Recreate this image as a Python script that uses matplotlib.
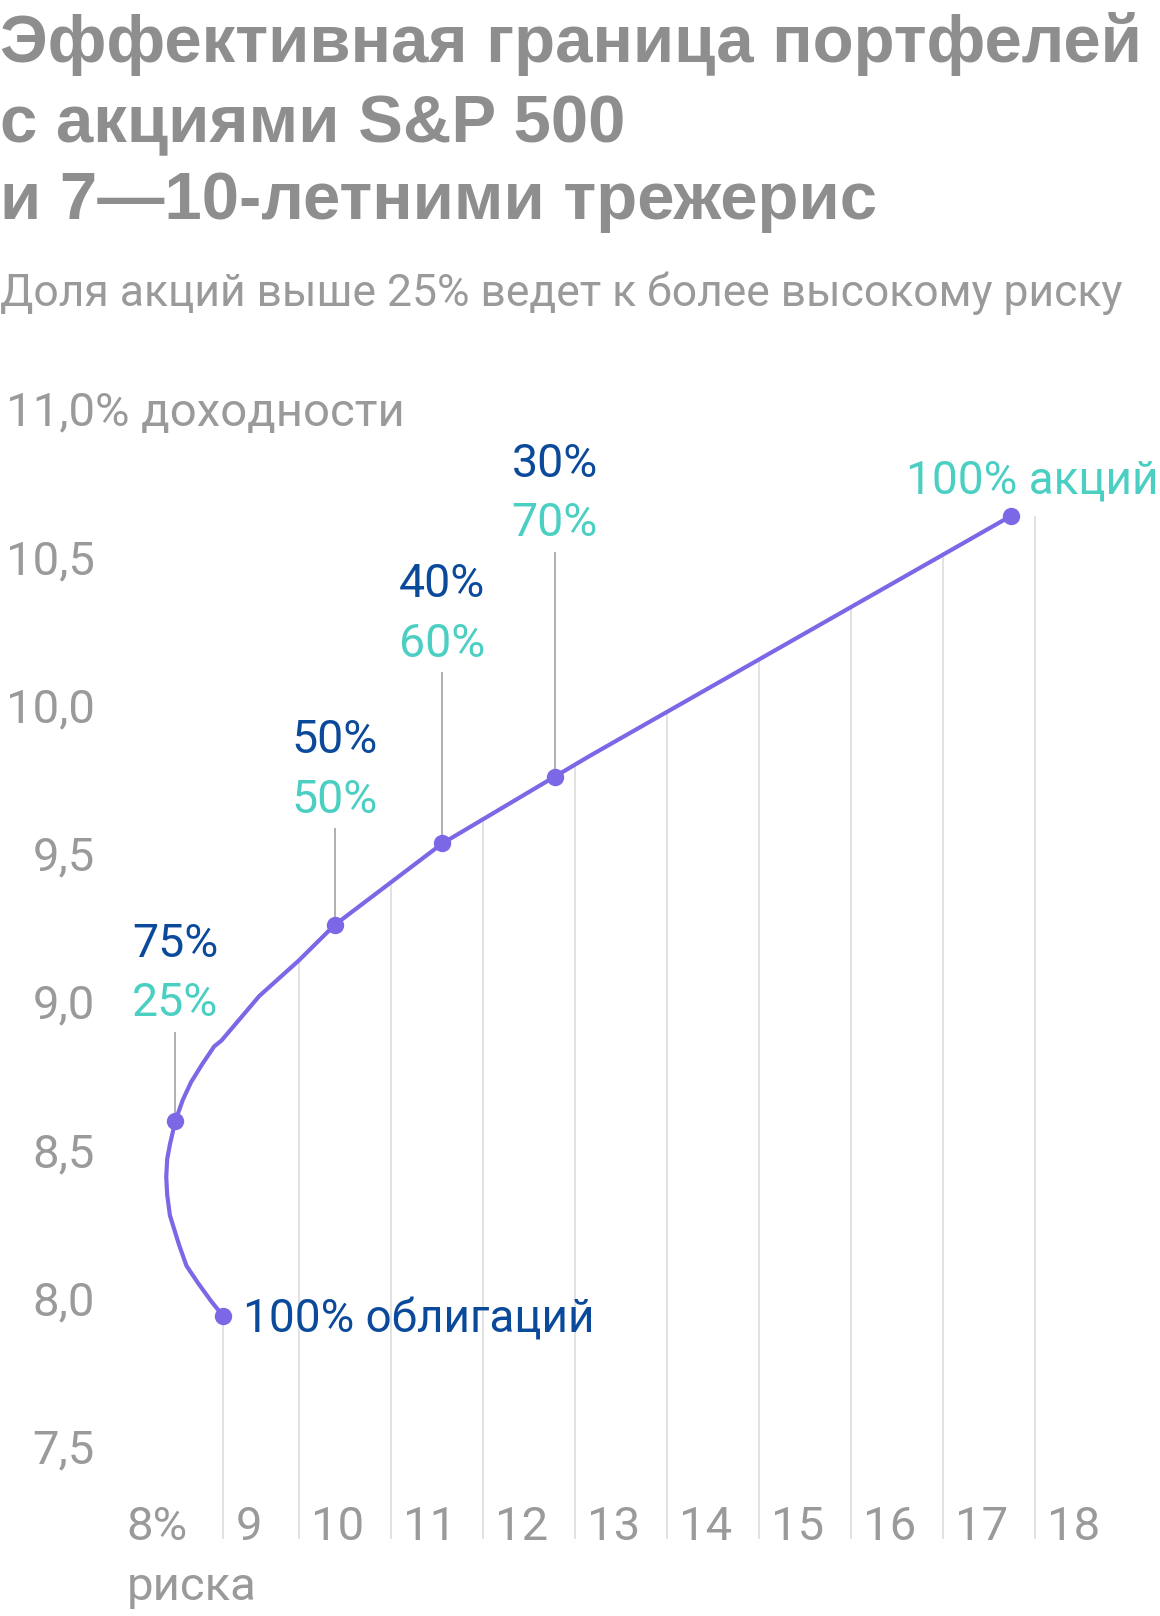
import numpy as np
import matplotlib
matplotlib.use("Agg")
import matplotlib.pyplot as plt

# ---------------- data ----------------
# efficient frontier (risk %, return %), from 100% bonds to 100% stocks
curve_risk = [9.18, 9.05, 8.91, 8.78, 8.70, 8.60, 8.57, 8.56, 8.57, 8.60, 8.66,
              8.74, 8.83, 8.95, 9.08, 9.16, 9.57, 10.00, 10.39, 11.56, 12.78,
              13.16, 17.74]
curve_return = [7.94, 7.99, 8.05, 8.11, 8.18, 8.28, 8.35, 8.41, 8.47, 8.52, 8.60,
                8.67, 8.73, 8.79, 8.85, 8.87, 9.02, 9.14, 9.26, 9.535, 9.76,
                9.83, 10.64]

# highlighted portfolios
point_risk = [9.18, 8.66, 10.39, 11.56, 12.78, 17.74]
point_return = [7.94, 8.60, 9.26, 9.535, 9.76, 10.64]

# annotated mixes (bonds share / stocks share)
mix_risk = [8.66, 10.39, 11.56, 12.78]
mix_bonds = ["75%", "50%", "40%", "30%"]
mix_stocks = ["25%", "50%", "60%", "70%"]

x_ticks = [8, 9, 10, 11, 12, 13, 14, 15, 16, 17, 18]
x_tick_labels = ["8%", "9", "10", "11", "12", "13", "14", "15", "16", "17", "18"]
y_ticks = [7.5, 8.0, 8.5, 9.0, 9.5, 10.0, 10.5, 11.0]
y_tick_labels = ["7,5", "8,0", "8,5", "9,0", "9,5", "10,0", "10,5", "11,0"]

title_lines = ["Эффективная граница портфелей", "с акциями S&P 500",
               "и 7—10-летними трежерис"]
subtitle = "Доля акций выше 25% ведет к более высокому риску"

# ---------------- layout / style ----------------
W, H = 1160, 1616
PX_X0, PPU_X = 114.7, 92.06      # pixel of x=8, pixels per unit
PX_Y11, PPU_Y = 409.0, 296.5     # pixel of y=11, pixels per unit

PURPLE = "#7b68e6"
DARK = "#0b4a9b"
TEAL = "#4ccfc3"
GRAY = "#9a9a9a"
TITLE_GRAY = "#8e8e8e"
GRID = "#dddddd"
FONT = ["Roboto", "DejaVu Sans"]

leader_top = [8.90, 9.587, 10.113, 10.519]

fig = plt.figure(figsize=(W / 100, H / 100), dpi=100)
ax = fig.add_axes([0, 0, 1, 1])
ax.set_xlim(8 - PX_X0 / PPU_X, 8 + (W - PX_X0) / PPU_X)
ax.set_ylim(11 - (H - PX_Y11) / PPU_Y, 11 + PX_Y11 / PPU_Y)
ax.axis("off")


def dy(px):
    return px / PPU_Y


def dx(px):
    return px / PPU_X


y_bottom = 11 - (1539 - PX_Y11) / PPU_Y

# vertical gridlines, clipped by the upper branch of the frontier
imin = int(np.argmin(curve_risk))
up_x = np.array(curve_risk[imin:])
up_y = np.array(curve_return[imin:])
for xv in x_ticks[2:]:
    ax.vlines(xv, y_bottom, np.interp(xv, up_x, up_y), color=GRID, lw=1.2, zorder=1)
# drop line under 100% bonds
ax.vlines(point_risk[0], y_bottom, point_return[0], color=GRID, lw=1.2, zorder=1)

# leader lines
for xr, yr, top in zip(mix_risk, point_return[1:5], leader_top):
    ax.vlines(xr, yr, top, color=GRAY, lw=1.1, zorder=2)

# frontier
ax.plot(curve_risk, curve_return, color=PURPLE, lw=3.0, solid_capstyle="round",
        solid_joinstyle="round", zorder=3)
ax.plot(point_risk, point_return, "o", color=PURPLE, ms=11.5, zorder=4)

# mix labels
LBL = 33.5
half_cap = dy(0.711 * LBL * 100 / 72 / 2)
for xr, top, b, s in zip(mix_risk, leader_top, mix_bonds, mix_stocks):
    ax.text(xr, top + 0.309 - half_cap, b, color=DARK, fontsize=LBL, ha="center",
            va="baseline", family=FONT)
    ax.text(xr, top + 0.107 - half_cap, s, color=TEAL, fontsize=LBL, ha="center",
            va="baseline", family=FONT)

ax.text(point_risk[0] + dx(20), point_return[0] - half_cap, "100% облигаций",
        color=DARK, fontsize=33, ha="left", va="baseline", family=FONT)
ax.text(8 + (1158 - PX_X0) / PPU_X, 10.771 - half_cap, "100% акций",
        color=TEAL, fontsize=33, ha="right", va="baseline", family=FONT)

# y tick labels
TK = 34
tk_half = dy(0.711 * TK * 100 / 72 / 2)
x_right = 8 + (95 - PX_X0) / PPU_X
for v, lab in zip(y_ticks, y_tick_labels):
    ax.text(x_right, v - tk_half, lab, color=GRAY, fontsize=TK, ha="right",
            va="baseline", family=FONT)
ax.text(x_right, y_ticks[-1] - tk_half, "% доходности", color=GRAY, fontsize=TK,
        ha="left", va="baseline", family=FONT)

# x tick labels
x_base = 11 - (1540 - PX_Y11) / PPU_Y
for v, lab in zip(x_ticks, x_tick_labels):
    xpos = max(v, point_risk[0]) if v == 9 else v
    ax.text(xpos + dx(12), x_base, lab, color=GRAY, fontsize=TK, ha="left",
            va="baseline", family=FONT)
ax.text(8 + dx(12), 11 - (1600 - PX_Y11) / PPU_Y, "риска", color=GRAY, fontsize=TK,
        ha="left", va="baseline", family=FONT)

# title & subtitle
for i, (line, base) in enumerate(zip(title_lines, [62, 142, 219])):
    fig.text(0.0, 1 - base / H, line, color=TITLE_GRAY, fontsize=48.3,
             fontweight="bold", family=["Liberation Sans", "DejaVu Sans"],
             ha="left", va="baseline")
fig.text(0.0, 1 - 306 / H, subtitle, color=GRAY, fontsize=32, family=FONT,
         ha="left", va="baseline")

fig.savefig("out.png", dpi=100, facecolor="white")
